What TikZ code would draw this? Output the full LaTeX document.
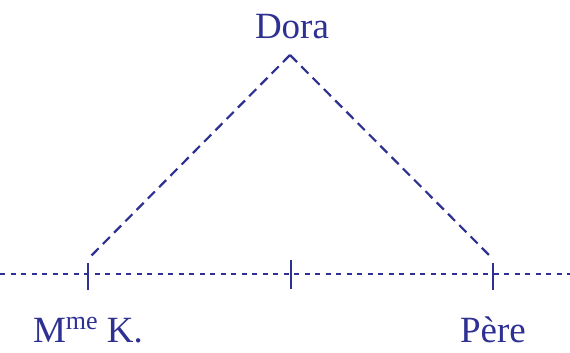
\documentclass[tikz,border=0pt]{standalone}
\usepackage{fontspec}
\setmainfont{Liberation Serif}
\definecolor{ink}{RGB}{46,49,146}
\begin{document}
\begin{tikzpicture}[x=1pt,y=-1pt,
  lbl/.style={text=ink,font=\fontsize{37}{40}\selectfont,inner sep=0pt,anchor=base},
  diag/.style={draw=ink,line width=2.2pt,dash pattern=on 10pt off 6pt},
  axis/.style={draw=ink,line width=2pt,dash pattern=on 5pt off 5.5pt},
  tick/.style={draw=ink,line width=2.2pt}]
\useasboundingbox (0,0) rectangle (570,353);
\node[lbl] (dora) at (292,38) {Dora};
\node[lbl] (mme) at (88,342) {M\raisebox{0.33em}{\fontsize{26}{28}\selectfont me} K.};
\node[lbl] (pere) at (493,342) {Père};
\coordinate (apex) at (290,55);
\coordinate (lend) at (91,256);
\coordinate (rend) at (490,256);
\coordinate (axl) at (0,274);
\coordinate (axr) at (570,274);
\coordinate (t1a) at (88,263); \coordinate (t1b) at (88,290);
\coordinate (t2a) at (291,260); \coordinate (t2b) at (291,289);
\coordinate (t3a) at (493,263); \coordinate (t3b) at (493,290);
\draw[diag] (apex) -- (lend);
\draw[diag] (apex) -- (rend);
\draw[axis] (axl) -- (axr);
\draw[tick] (t1a) -- (t1b);
\draw[tick] (t2a) -- (t2b);
\draw[tick] (t3a) -- (t3b);
\end{tikzpicture}
\end{document}
